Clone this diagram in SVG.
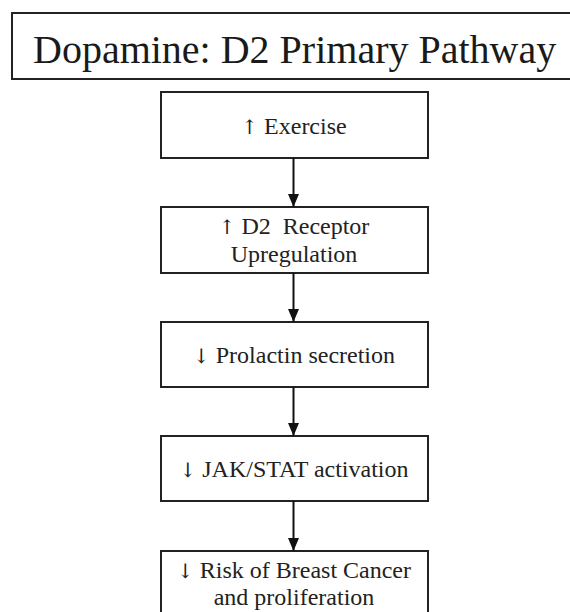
<svg xmlns="http://www.w3.org/2000/svg" width="570" height="612" viewBox="0 0 570 612">
  <style>
    .box { fill: #ffffff; stroke: #222222; stroke-width: 2; }
    .lbl { font-family: "Liberation Serif", "Times New Roman", serif; font-size: 24px; fill: #222222; text-anchor: middle; }
    .sym { font-family: "DejaVu Serif", "Liberation Serif", serif; font-size: 20px; fill: #222222; }
    .title { font-family: "Liberation Serif", "Times New Roman", serif; font-size: 40px; fill: #1a1a1a; }
    .edge { stroke: #111111; stroke-width: 2; fill: none; marker-end: url(#arrow); }
  </style>
  <defs>
    <!-- filled triangular arrowhead, tip on the end point of the line -->
    <marker id="arrow" viewBox="0 0 13 11" refX="13" refY="5.5" markerWidth="13" markerHeight="11" markerUnits="userSpaceOnUse" orient="auto">
      <path d="M0,0 L13,5.5 L0,11 Z" fill="#111111"/>
    </marker>
  </defs>
  <rect width="570" height="612" fill="#ffffff"/>

  <g id="title">
    <rect class="box" x="12" y="13" width="570" height="66"/>
    <text class="title" x="33" y="63">Dopamine: D2 Primary Pathway</text>
  </g>

  <g id="exercise">
    <rect class="box" x="161" y="92" width="267" height="66"/>
    <text class="lbl" x="294" y="134"><tspan class="sym">↑</tspan> Exercise</text>
  </g>

  <g id="d2-receptor">
    <rect class="box" x="161" y="207" width="267" height="66"/>
    <text class="lbl" x="294" y="234" xml:space="preserve"><tspan class="sym">↑</tspan> D2  Receptor</text>
    <text class="lbl" x="294" y="262">Upregulation</text>
  </g>

  <g id="prolactin">
    <rect class="box" x="161" y="322" width="267" height="65"/>
    <text class="lbl" x="294" y="363"><tspan class="sym">↓</tspan> Prolactin secretion</text>
  </g>

  <g id="jak-stat">
    <rect class="box" x="161" y="436" width="267" height="65"/>
    <text class="lbl" x="294" y="477"><tspan class="sym">↓</tspan> JAK/STAT activation</text>
  </g>

  <g id="breast-cancer">
    <rect class="box" x="161" y="551" width="267" height="80"/>
    <text class="lbl" x="294" y="578"><tspan class="sym">↓</tspan> Risk of Breast Cancer</text>
    <text class="lbl" x="294" y="605">and proliferation</text>
  </g>

  <g id="connectors">
    <line class="edge" x1="293.5" y1="158" x2="293.5" y2="207"/>
    <line class="edge" x1="293.5" y1="273" x2="293.5" y2="322"/>
    <line class="edge" x1="293.5" y1="387" x2="293.5" y2="436"/>
    <line class="edge" x1="293.5" y1="501" x2="293.5" y2="551"/>
  </g>
</svg>
